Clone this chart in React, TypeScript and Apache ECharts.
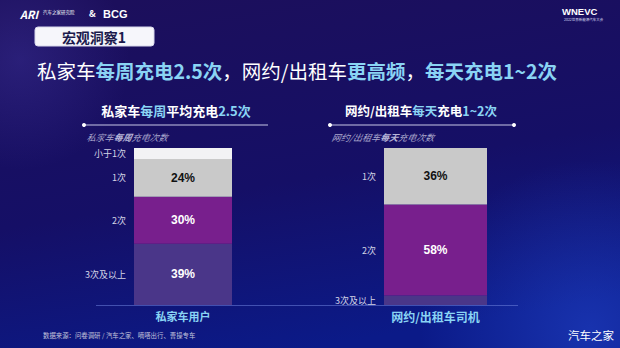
import React, { useEffect, useRef } from "react";
import * as echarts from "echarts";

// ---- Data ----
const privateCategories = ["3次及以上", "2次", "1次", "小于1次"];
const privateValues = [39, 30, 24, 7];
const privateAxisLabel = ["私家车用户"];

const taxiCategories = ["3次及以上", "2次", "1次"];
const taxiValues = [6, 58, 36];
const taxiAxisLabel = ["网约/出租车司机"];

// ---- Styles ----
const segColors: Record<string, string> = {
  "3次及以上": "#4a3689",
  "2次": "#781f8d",
  "1次": "#c9c9c9",
  "小于1次": "#f2f2f4",
};
const segLabelColors: Record<string, string> = {
  "3次及以上": "#ffffff",
  "2次": "#ffffff",
  "1次": "#111111",
  "小于1次": "#111111",
};

const FONT = "'Noto Sans CJK SC', 'Noto Sans', sans-serif";
const BLUE = "#8ad4f4";

function buildSeries(cats: string[], vals: number[], grid: number) {
  const xMain = grid * 2;
  const xGhost = grid * 2 + 1;
  const main = cats.map((c, i) => ({
    type: "bar",
    name: c,
    xAxisIndex: xMain,
    yAxisIndex: grid,
    stack: "main" + grid,
    barWidth: "100%",
    data: [vals[i]],
    itemStyle: { color: segColors[c] },
    label: {
      show: vals[i] >= 10,
      position: "inside",
      formatter: "{c}%",
      color: segLabelColors[c],
      fontWeight: "bold",
      fontSize: 12,
      fontFamily: "'Liberation Sans', Arial, sans-serif",
    },
    silent: true,
  }));
  const ghost = cats.map((c, i) => ({
    type: "bar",
    name: c + "_label",
    xAxisIndex: xGhost,
    yAxisIndex: grid,
    stack: "ghost" + grid,
    barWidth: "100%",
    data: [vals[i]],
    itemStyle: { color: "rgba(0,0,0,0)" },
    label: {
      show: true,
      position: "left",
      distance: 8,
      formatter: c,
      color: "#d4d4e6",
      fontSize: 9,
      fontFamily: FONT,
    },
    silent: true,
  }));
  return [...main, ...ghost];
}

export default function App() {
  const ref = useRef<HTMLDivElement>(null);

  useEffect(() => {
    if (!ref.current) return;
    const chart = echarts.init(ref.current, undefined, { renderer: "svg" });

    const catAxis = (data: string[], grid: number, visible: boolean, fontSize: number) => ({
      type: "category",
      gridIndex: grid,
      data,
      show: visible,
      axisLine: { show: false },
      axisTick: { show: false },
      axisLabel: {
        color: BLUE,
        fontWeight: "bold",
        fontSize,
        fontFamily: FONT,
        margin: 5,
      },
    });

    const option: any = {
      animation: false,
      backgroundColor: new echarts.graphic.LinearGradient(0.2, 0, 0.5, 1, [
        { offset: 0, color: "#1c0f5c" },
        { offset: 0.55, color: "#150f66" },
        { offset: 1, color: "#0b1a88" },
      ]),
      grid: [
        { left: 134, top: 148, width: 98, height: 157 },
        { left: 384, top: 148, width: 103, height: 157 },
      ],
      xAxis: [
        catAxis(privateAxisLabel, 0, true, 11),
        catAxis(privateAxisLabel, 0, false, 11),
        catAxis(taxiAxisLabel, 1, true, 12),
        catAxis(taxiAxisLabel, 1, false, 12),
      ],
      yAxis: [
        { type: "value", gridIndex: 0, min: 0, max: 100, show: false },
        { type: "value", gridIndex: 1, min: 0, max: 100, show: false },
      ],
      series: [
        ...buildSeries(privateCategories, privateValues, 0),
        ...buildSeries(taxiCategories, taxiValues, 1),
      ],
      graphic: [
        // glow bottom-right
        {
          type: "circle",
          z: -10,
          silent: true,
          shape: { cx: 590, cy: 330, r: 170 },
          style: {
            fill: new echarts.graphic.RadialGradient(0.5, 0.5, 0.5, [
              { offset: 0, color: "rgba(40,80,220,0.45)" },
              { offset: 1, color: "rgba(40,80,220,0)" },
            ]),
          },
        },
        {
          type: "circle",
          z: -10,
          silent: true,
          shape: { cx: 20, cy: 60, r: 110 },
          style: {
            fill: new echarts.graphic.RadialGradient(0.5, 0.5, 0.5, [
              { offset: 0, color: "rgba(70,60,170,0.35)" },
              { offset: 1, color: "rgba(70,60,170,0)" },
            ]),
          },
        },
        // header logos
        {
          type: "text",
          left: 20,
          top: 8,
          style: { text: "ARI", fill: "#ffffff", font: `bold italic 11px ${FONT}` },
        },
        {
          type: "text",
          left: 43,
          top: 10,
          style: { text: "汽车之家研究院", fill: "#ffffff", font: `4.5px ${FONT}` },
        },
        {
          type: "text",
          left: 89,
          top: 9,
          style: { text: "&", fill: "#ffffff", font: `bold 9px ${FONT}` },
        },
        {
          type: "text",
          left: 103,
          top: 8,
          style: { text: "BCG", fill: "#ffffff", font: `bold 11px 'Liberation Sans', Arial, sans-serif` },
        },
        {
          type: "text",
          left: 562,
          top: 6,
          style: { text: "WNEVC", fill: "#ffffff", font: `bold 9.5px 'Liberation Sans', Arial, sans-serif` },
        },
        {
          type: "text",
          left: 564,
          top: 18,
          style: { text: "2022世界新能源汽车大会", fill: "#d8d8f0", font: `3.5px ${FONT}` },
        },
        // section tag
        {
          type: "rect",
          shape: { x: 35, y: 27, width: 119, height: 19, r: 3 },
          style: { fill: "#f6f6fb", stroke: "#d8d8ec", lineWidth: 1 },
        },
        {
          type: "text",
          x: 94,
          y: 37,
          style: {
            text: "宏观洞察1",
            fill: "#1b1a4c",
            font: `bold 14px ${FONT}`,
            align: "center",
            verticalAlign: "middle",
          },
        },
        // main title
        {
          type: "text",
          x: 37,
          y: 70,
          style: {
            text: "{w|私家车}{b|每周充电2.5次}{w|，网约/出租车}{b|更高频}{w|，}{b|每天充电1~2次}",
            verticalAlign: "middle",
            rich: {
              w: { fill: "#ffffff", fontSize: 19.5, fontFamily: FONT },
              b: { fill: BLUE, fontSize: 19.5, fontWeight: "bold", fontFamily: FONT },
            },
          },
        },
        // chart titles
        {
          type: "text",
          x: 176,
          y: 110,
          style: {
            text: "{w|私家车}{b|每周}{w|平均充电}{b|2.5次}",
            align: "center",
            verticalAlign: "middle",
            rich: {
              w: { fill: "#ffffff", fontSize: 13, fontWeight: "bold", fontFamily: FONT },
              b: { fill: BLUE, fontSize: 13, fontWeight: "bold", fontFamily: FONT },
            },
          },
        },
        {
          type: "text",
          x: 421,
          y: 110,
          style: {
            text: "{w|网约/出租车}{b|每天}{w|充电}{b|1~2次}",
            align: "center",
            verticalAlign: "middle",
            rich: {
              w: { fill: "#ffffff", fontSize: 12.5, fontWeight: "bold", fontFamily: FONT },
              b: { fill: BLUE, fontSize: 12.5, fontWeight: "bold", fontFamily: FONT },
            },
          },
        },
        // separator lines
        {
          type: "line",
          shape: { x1: 84, y1: 125, x2: 268, y2: 125 },
          style: { stroke: "#c8c8e6", lineWidth: 1 },
        },
        { type: "circle", shape: { cx: 84, cy: 125, r: 2 }, style: { fill: "#ffffff" } },
        {
          type: "line",
          shape: { x1: 330, y1: 125, x2: 514, y2: 125 },
          style: { stroke: "#c8c8e6", lineWidth: 1 },
        },
        { type: "circle", shape: { cx: 330, cy: 125, r: 2 }, style: { fill: "#ffffff" } },
        { type: "circle", shape: { cx: 514, cy: 125, r: 2 }, style: { fill: "#ffffff" } },
        // subtitles (skewed to imitate italic)
        {
          type: "text",
          x: 87,
          y: 137,
          skewX: -0.2,
          style: {
            text: "{n|私家车}{s|每周}{n|充电次数}",
            verticalAlign: "middle",
            rich: {
              n: { fill: "#a9a6cc", fontSize: 9, fontStyle: "italic", fontFamily: FONT },
              s: { fill: "#b8b6d8", fontSize: 9, fontStyle: "italic", fontWeight: "bold", fontFamily: FONT },
            },
          },
        },
        {
          type: "text",
          x: 332,
          y: 137,
          skewX: -0.2,
          style: {
            text: "{n|网约/出租车}{s|每天}{n|充电次数}",
            verticalAlign: "middle",
            rich: {
              n: { fill: "#a9a6cc", fontSize: 9, fontStyle: "italic", fontFamily: FONT },
              s: { fill: "#b8b6d8", fontSize: 9, fontStyle: "italic", fontWeight: "bold", fontFamily: FONT },
            },
          },
        },
        // baseline
        {
          type: "line",
          shape: { x1: 96, y1: 305.5, x2: 518, y2: 305.5 },
          style: { stroke: "rgba(110,130,220,0.55)", lineWidth: 1 },
        },
        // footer
        {
          type: "text",
          x: 43,
          y: 335,
          style: {
            text: "数据来源：问卷调研 / 汽车之家、嘀嗒出行、曹操专车",
            fill: "#c4c4dc",
            font: `6.4px ${FONT}`,
            verticalAlign: "middle",
          },
        },
        {
          type: "text",
          x: 568,
          y: 335,
          style: {
            text: "汽车之家",
            fill: "#ffffff",
            font: `11.5px ${FONT}`,
            verticalAlign: "middle",
          },
        },
      ],
    };

    chart.setOption(option);
    return () => chart.dispose();
  }, []);

  return (
    <div
      ref={ref}
      style={{ position: "fixed", left: 0, top: 0, width: 620, height: 348 }}
    />
  );
}
